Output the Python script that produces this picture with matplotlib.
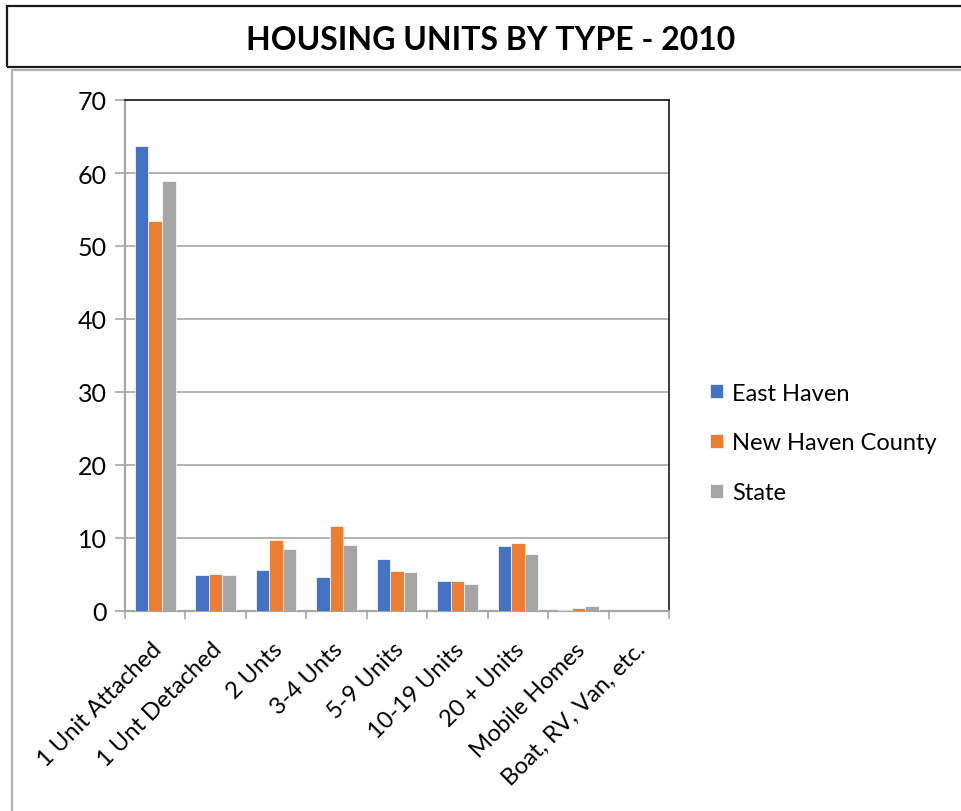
import matplotlib
matplotlib.use("Agg")
import matplotlib.pyplot as plt
from matplotlib.patches import Rectangle
from matplotlib.transforms import ScaledTranslation
import numpy as np

plt.rcParams['font.family'] = ['Lato', 'DejaVu Sans']

categories = ["1 Unit Attached", "1 Unt Detached", "2 Unts", "3-4 Unts", "5-9 Units",
              "10-19 Units", "20 + Units", "Mobile Homes", "Boat, RV, Van, etc."]
series_names = ["East Haven", "New Haven County", "State"]
east_haven = [63.7, 5.0, 5.6, 4.6, 7.1, 4.1, 8.9, 0.1, 0.0]
new_haven_county = [53.4, 5.1, 9.7, 11.6, 5.5, 4.1, 9.3, 0.4, 0.0]
state = [58.9, 5.0, 8.5, 9.1, 5.4, 3.7, 7.8, 0.7, 0.0]
colors = ["#4472C4", "#ED7D31", "#A5A5A5"]
y_ticks = [0, 10, 20, 30, 40, 50, 60, 70]
title = "HOUSING UNITS BY TYPE - 2010"

W, H = 961, 812
fig = plt.figure(figsize=(W / 100, H / 100), dpi=100)

def fx(x):
    return x / W

def fy(y):
    return 1 - y / H

# outer boxes
fig.patches.append(Rectangle((fx(7), fy(68)), fx(1000) - fx(7), fy(7) - fy(68),
                             transform=fig.transFigure, fill=False, edgecolor="#1a1a1a",
                             linewidth=1.6, zorder=0))
fig.patches.append(Rectangle((fx(12), fy(1000)), fx(1000) - fx(12), fy(71) - fy(1000),
                             transform=fig.transFigure, fill=False, edgecolor="#b0b0b0",
                             linewidth=1.6, zorder=0))
fig.text(fx(491), fy(40), title, ha="center", va="center", fontsize=23,
         fontweight="bold", color="black")

ax = fig.add_axes([fx(125), fy(612), fx(669) - fx(125), fy(101) - fy(612)])
x = np.arange(len(categories))
bw = 0.224
for i, (name, vals) in enumerate(zip(series_names, [east_haven, new_haven_county, state])):
    ax.bar(x + (i - 1) * bw, vals, width=bw, color=colors[i], label=name,
           edgecolor="white", linewidth=0.5, zorder=3)

ax.set_xlim(-0.5, len(categories) - 0.5)
ax.set_ylim(0, 70)
ax.set_yticks(y_ticks)
ax.set_yticklabels([str(v) for v in y_ticks], fontsize=18)
ax.yaxis.grid(True, color="#a6a6a6", linewidth=1.2, zorder=0)
ax.set_axisbelow(True)
ax.tick_params(axis="y", length=7, width=1.2, color="#a6a6a6", pad=6)

ax.set_xticks(x)
ax.set_xticklabels(categories, fontsize=17, rotation=45, ha="right", va="center",
                   rotation_mode="anchor")
ax.tick_params(axis="x", which="major", length=0, pad=25)
ax.set_xticks(np.arange(-0.5, len(categories), 1.0), minor=True)
ax.tick_params(axis="x", which="minor", length=6, width=1.2, color="#a6a6a6")
for lab in ax.get_xticklabels():
    lab.set_transform(lab.get_transform() + ScaledTranslation(0.03, 0, fig.dpi_scale_trans))

for side in ["top", "right"]:
    ax.spines[side].set_color("#1a1a1a")
    ax.spines[side].set_linewidth(1.2)
for side in ["left", "bottom"]:
    ax.spines[side].set_color("#a6a6a6")
    ax.spines[side].set_linewidth(1.6)

fig.legend(loc="center left", bbox_to_anchor=(fx(698), fy(444)), frameon=False,
           fontsize=17, handlelength=0.55, handleheight=0.55, handletextpad=0.4,
           labelspacing=1.22, borderpad=0)

fig.savefig("out.png", dpi=100)
